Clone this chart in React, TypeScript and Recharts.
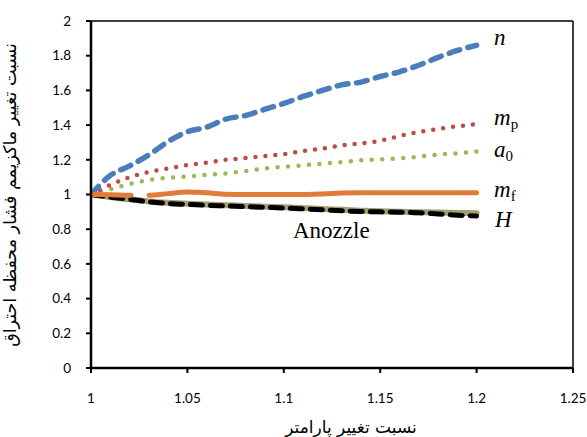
import React from "react";
import { LineChart, Line, XAxis, YAxis, ReferenceLine } from "recharts";

const xValues = [1.0, 1.01, 1.02, 1.03, 1.04, 1.05, 1.06, 1.07, 1.08, 1.09, 1.1, 1.11, 1.12, 1.13, 1.14, 1.15, 1.16, 1.17, 1.18, 1.19, 1.2];
const nValues = [1.0, 1.11, 1.165, 1.228, 1.305, 1.362, 1.388, 1.435, 1.455, 1.49, 1.525, 1.565, 1.6, 1.632, 1.648, 1.68, 1.707, 1.745, 1.79, 1.83, 1.86];
const mpValues = [1.0, 1.055, 1.1, 1.13, 1.15, 1.17, 1.183, 1.2, 1.21, 1.222, 1.233, 1.25, 1.265, 1.283, 1.295, 1.31, 1.337, 1.36, 1.378, 1.393, 1.405];
const a0Values = [1.0, 1.03, 1.06, 1.083, 1.096, 1.104, 1.113, 1.122, 1.135, 1.149, 1.16, 1.168, 1.178, 1.187, 1.197, 1.203, 1.209, 1.218, 1.23, 1.237, 1.248];
const mfValues = [1.0, 0.998, 0.995, 0.995, 1.005, 1.015, 1.01, 1.002, 1.0, 1.0, 1.0, 1.0, 1.003, 1.008, 1.01, 1.01, 1.01, 1.01, 1.01, 1.01, 1.01];
const hValues = [1.0, 0.985, 0.972, 0.96, 0.952, 0.946, 0.942, 0.938, 0.934, 0.93, 0.926, 0.921, 0.916, 0.912, 0.907, 0.903, 0.9, 0.898, 0.896, 0.894, 0.892];
const anozzleValues = [1.0, 0.985, 0.972, 0.958, 0.948, 0.943, 0.938, 0.934, 0.93, 0.926, 0.922, 0.917, 0.912, 0.906, 0.902, 0.9, 0.898, 0.895, 0.888, 0.881, 0.876];

const xTicks = [1, 1.05, 1.1, 1.15, 1.2, 1.25];
const yTicks = [0, 0.2, 0.4, 0.6, 0.8, 1, 1.2, 1.4, 1.6, 1.8, 2];
const xMax = 1.25;
const yMax = 2;

const xTitle = "نسبت تغییر پارامتر";
const yTitle = "نسبت تغییر ماکزیمم فشار محفظه احتراق";

const data = xValues.map((x, i) => ({
  x,
  n: nValues[i],
  mp: mpValues[i],
  a0: a0Values[i],
  mf: mfValues[i],
  h: hValues[i],
  anozzle: anozzleValues[i],
}));

const tickStyle = { fill: "#000", fontSize: 13.5, fontFamily: "Lato, 'Open Sans', sans-serif" };
const serif = "'Liberation Serif', 'DejaVu Serif', serif";

export default function App() {
  return (
    <div style={{ position: "absolute", left: 0, top: 0, width: 587, height: 437, background: "#fff" }}>
      <LineChart
        width={587}
        height={437}
        data={data}
        margin={{ top: 21, right: 14, bottom: 29, left: 31 }}
      >
        <XAxis
          dataKey="x"
          type="number"
          domain={[1, xMax]}
          ticks={xTicks}
          tick={tickStyle}
          tickSize={5}
          tickMargin={20}
          height={40}
          axisLine={{ stroke: "#000", strokeWidth: 2.5 }}
          tickLine={{ stroke: "#000", strokeWidth: 2 }}
          allowDataOverflow
        />
        <YAxis
          type="number"
          domain={[0, yMax]}
          ticks={yTicks}
          tick={tickStyle}
          tickSize={5}
          tickMargin={15}
          width={60}
          axisLine={{ stroke: "#000", strokeWidth: 2.5 }}
          tickLine={{ stroke: "#000", strokeWidth: 2 }}
        />
        <ReferenceLine y={yMax} stroke="#000" strokeWidth={1.5} />
        <ReferenceLine x={xMax} stroke="#000" strokeWidth={1.5} />
        <Line dataKey="h" type="monotone" stroke="#A39D72" strokeWidth={6} dot={false} strokeLinecap="round" isAnimationActive={false} />
        <Line dataKey="anozzle" type="monotone" stroke="#000" strokeWidth={5} strokeDasharray="12 8" strokeLinecap="round" dot={false} isAnimationActive={false} />
        <Line dataKey="a0" type="monotone" stroke="#98B954" strokeWidth={4.5} strokeDasharray="0 10.5" strokeLinecap="round" dot={false} isAnimationActive={false} />
        <Line dataKey="mp" type="monotone" stroke="#BE4B48" strokeWidth={4.5} strokeDasharray="0 10" strokeLinecap="round" dot={false} isAnimationActive={false} />
        <Line dataKey="n" type="monotone" stroke="#4A7EBB" strokeWidth={5.5} strokeDasharray="11 8.5" strokeLinecap="round" dot={false} isAnimationActive={false} />
        <Line dataKey="mf" type="monotone" stroke="#E07B39" strokeWidth={5} strokeDasharray="40 18 2000" strokeLinecap="round" dot={false} isAnimationActive={false} />
      </LineChart>
      <svg
        width={587}
        height={437}
        style={{ position: "absolute", left: 0, top: 0, pointerEvents: "none" }}
      >
        <text x={494} y={45} fontFamily={serif} fontSize={23} fontStyle="italic" fill="#000">n</text>
        <text x={494} y={125} fontFamily={serif} fontSize={23} fill="#000">
          <tspan fontStyle="italic">m</tspan>
          <tspan fontSize={15} dy={4}>p</tspan>
        </text>
        <text x={494} y={157} fontFamily={serif} fontSize={23} fill="#000">
          <tspan fontStyle="italic">a</tspan>
          <tspan fontSize={15} dy={4}>0</tspan>
        </text>
        <text x={494} y={197} fontFamily={serif} fontSize={23} fill="#000">
          <tspan fontStyle="italic">m</tspan>
          <tspan fontSize={15} dy={4}>f</tspan>
        </text>
        <text x={495} y={227} fontFamily={serif} fontSize={23} fontStyle="italic" fill="#000">H</text>
        <text x={293} y={238} fontFamily={serif} fontSize={23} fill="#000">Anozzle</text>
        <text
          x={351}
          y={427}
          textAnchor="middle"
          dominantBaseline="central"
          fontFamily="'DejaVu Sans', sans-serif"
          fontSize={17}
          fill="#000"
        >
          {xTitle}
        </text>
        <text
          x={10}
          y={195}
          textAnchor="middle"
          dominantBaseline="central"
          transform="rotate(-90 10 195)"
          fontFamily="'DejaVu Sans', sans-serif"
          fontSize={17.5}
          fill="#000"
        >
          {yTitle}
        </text>
      </svg>
    </div>
  );
}
